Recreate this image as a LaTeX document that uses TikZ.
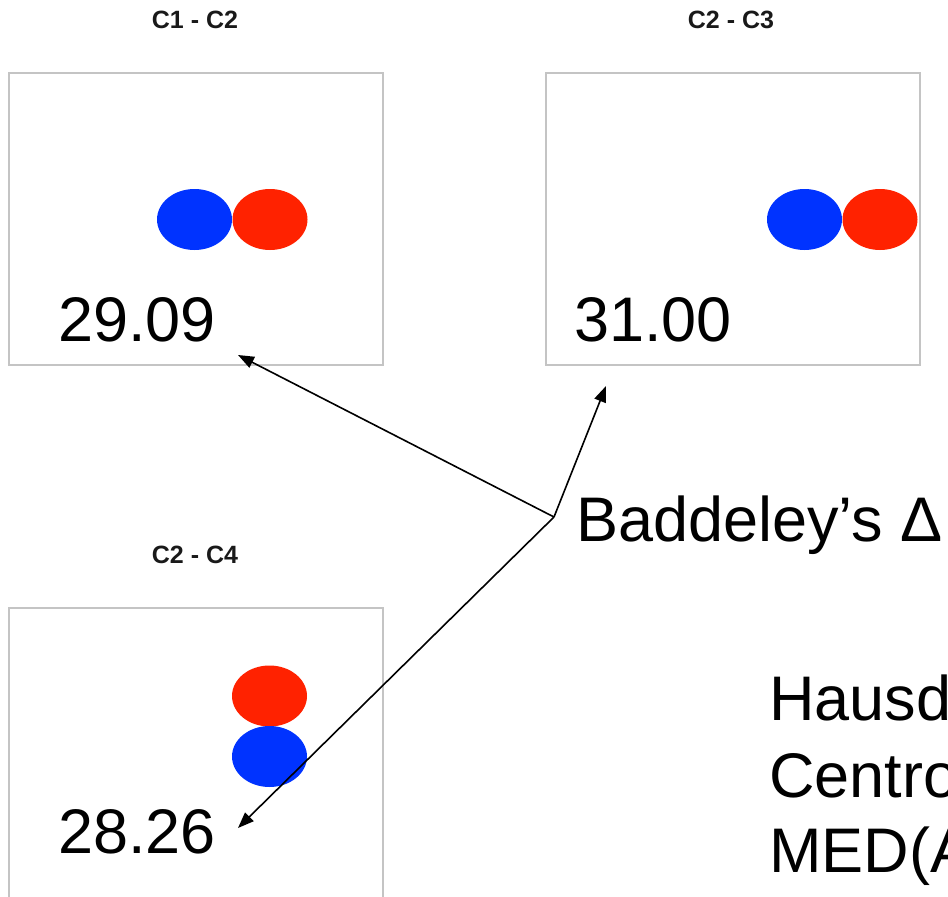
\documentclass[tikz,border=0pt]{standalone}
\usepackage{fontspec}
\setmainfont{Liberation Sans}
\usetikzlibrary{shapes.geometric,arrows.meta}
\definecolor{blobblue}{HTML}{0033FF}
\definecolor{blobred}{HTML}{FF2200}
\definecolor{framegray}{HTML}{C4C4C4}
\begin{document}
\begin{tikzpicture}[x=1pt,y=-1pt,
  panel/.style={draw=framegray,line width=2pt,fill=white,minimum width=374pt,minimum height=292pt,inner sep=0pt,anchor=north west},
  ttl/.style={font=\fontsize{25}{25}\selectfont\bfseries,text=black!90,inner sep=0pt,anchor=base},
  val/.style={font=\fontsize{63}{63}\selectfont,inner sep=0pt,anchor=base west},
  blob/.style={ellipse,minimum width=75pt,minimum height=61pt,inner sep=0pt,draw=none},
  bluedisk/.style={blob,fill=blobblue},
  reddisk/.style={blob,fill=blobred},
  ptr/.style={line width=1.6pt,-{Triangle[length=16pt,width=12pt]}}]
\useasboundingbox (0,0) rectangle (948,897);
\clip (0,0) rectangle (948,897);
% panels
\node[panel] (p1) at (8,72) {};
\node[panel] (p2) at (545,72) {};
\node[panel] (p3) at (8,607) {};
% titles
\node[ttl] (t1) at (195,28) {C1 - C2};
\node[ttl] (t2) at (731,28) {C2 - C3};
\node[ttl] (t3) at (195,563) {C2 - C4};
% blobs
\node[bluedisk] (b1) at (194.5,219.5) {};
\node[reddisk] (r1) at (270,219.5) {};
\node[bluedisk] (b2) at (804.5,219.5) {};
\node[reddisk] (r2) at (880,219.5) {};
\node[reddisk] (r3) at (269.5,696) {};
\node[bluedisk] (b3) at (269.5,756.5) {};
% values
\node[val] (v1) at (58,341) {29.09};
\node[val] (v2) at (574,341) {31.00};
\node[val] (v3) at (58,853) {28.26};
% labels on the right
\node[val] (bd) at (576,541) {Baddeley’s Δ};
\node[val] (hd) at (769,720) {Hausd};
\node[val] (ce) at (769,797) {Centro};
\node[val] (me) at (769,872) {MED(A};
% connectors
\coordinate (hub) at (554,517);
\coordinate (e1) at (238,355);
\coordinate (e2) at (606,386);
\coordinate (e3) at (238,828);
\draw[ptr] (hub) -- (e1);
\draw[ptr] (hub) -- (e2);
\draw[ptr] (hub) -- (e3);
\end{tikzpicture}
\end{document}
